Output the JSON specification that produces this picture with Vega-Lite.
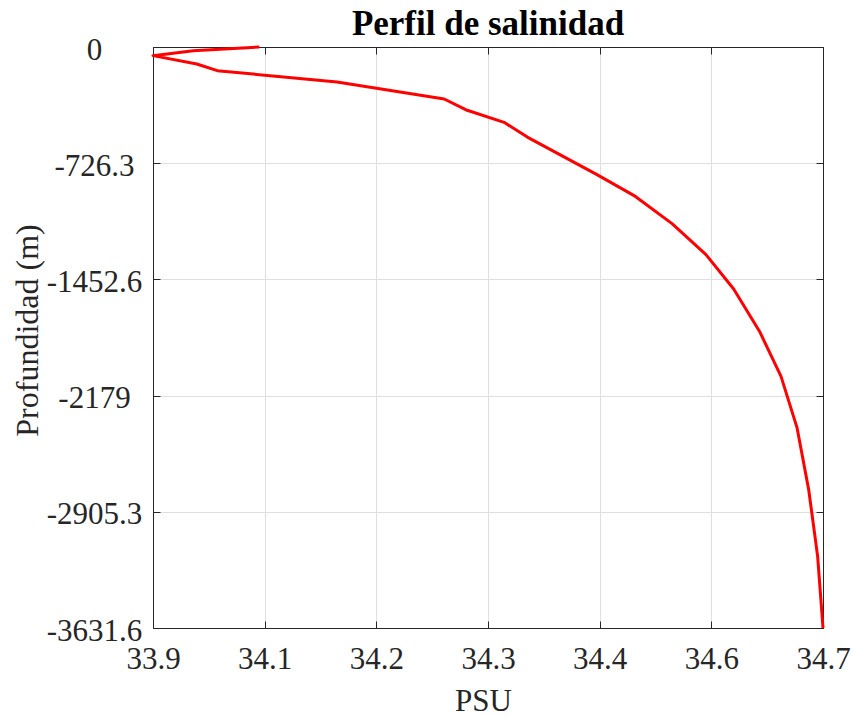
{
  "$schema": "https://vega.github.io/schema/vega-lite/v6.json",
  "width": 670,
  "height": 581,
  "autosize": {"type": "none"},
  "padding": {"left": 153, "top": 47, "right": 30, "bottom": 89},
  "background": "white",
  "config": {
    "view": {"stroke": "#262626", "strokeWidth": 1},
    "font": "Liberation Serif"
  },
  "title": {
    "text": "Perfil de salinidad",
    "font": "Liberation Serif",
    "fontSize": 35,
    "fontWeight": "bold",
    "color": "#000000",
    "anchor": "middle",
    "frame": "group",
    "baseline": "alphabetic",
    "offset": 10,
    "dy": 46
  },
  "data": {
    "values": [
      {"i": 0, "sal": 34.059, "depth": 0},
      {"i": 1, "sal": 33.985, "depth": -23},
      {"i": 2, "sal": 33.940, "depth": -54},
      {"i": 3, "sal": 33.989, "depth": -106},
      {"i": 4, "sal": 34.012, "depth": -148},
      {"i": 5, "sal": 34.146, "depth": -219},
      {"i": 6, "sal": 34.266, "depth": -325},
      {"i": 7, "sal": 34.290, "depth": -392},
      {"i": 8, "sal": 34.333, "depth": -471},
      {"i": 9, "sal": 34.359, "depth": -563},
      {"i": 10, "sal": 34.437, "depth": -798},
      {"i": 11, "sal": 34.480, "depth": -934},
      {"i": 12, "sal": 34.521, "depth": -1104},
      {"i": 13, "sal": 34.559, "depth": -1298},
      {"i": 14, "sal": 34.590, "depth": -1513},
      {"i": 15, "sal": 34.619, "depth": -1778},
      {"i": 16, "sal": 34.643, "depth": -2059},
      {"i": 17, "sal": 34.661, "depth": -2381},
      {"i": 18, "sal": 34.674, "depth": -2767},
      {"i": 19, "sal": 34.684, "depth": -3184},
      {"i": 20, "sal": 34.690, "depth": -3631.6}
    ]
  },
  "layer": [
    {
      "mark": {"type": "line", "color": "#ff0000", "strokeWidth": 3, "strokeJoin": "round", "clip": false},
      "encoding": {
        "x": {
          "field": "sal",
          "type": "quantitative",
          "scale": {"domain": [33.94, 34.69], "nice": false, "zero": false},
          "axis": {
            "orient": "bottom",
            "values": [33.94, 34.065, 34.19, 34.315, 34.44, 34.565, 34.69],
            "format": ".1f",
            "title": "PSU",
            "titleFont": "Liberation Serif",
            "titleFontSize": 31,
            "titleFontWeight": "normal",
            "titleColor": "#262626",
            "titleX": 330,
            "titleY": 82,
            "titleBaseline": "alphabetic",
            "labelFont": "Liberation Serif",
            "labelFontSize": 31,
            "labelColor": "#262626",
            "labelBaseline": "top",
            "labelPadding": 23,
            "labelFlush": false,
            "labelOverlap": false,
            "labelBound": false,
            "tickSize": -7,
            "tickColor": "#262626",
            "domainColor": "#262626",
            "grid": true,
            "gridColor": "#dfdfdf",
            "gridWidth": 1
          }
        },
        "y": {
          "field": "depth",
          "type": "quantitative",
          "scale": {"domain": [-3631.6, 0], "nice": false, "zero": false},
          "axis": {
            "orient": "left",
            "values": [0, -726.3, -1452.6, -2179, -2905.3, -3631.6],
            "labelExpr": "'' + datum.value",
            "title": "Profundidad (m)",
            "titleFont": "Liberation Serif",
            "titleFontSize": 32,
            "titleFontWeight": "normal",
            "titleColor": "#262626",
            "titleAngle": 270,
            "titleX": -116,
            "titleY": 283,
            "titleBaseline": "alphabetic",
            "titleAlign": "center",
            "labelFont": "Liberation Serif",
            "labelFontSize": 31,
            "labelColor": "#262626",
            "labelAlign": "center",
            "labelBaseline": "middle",
            "labelPadding": 66,
            "labelOffset": 3,
            "labelFlush": false,
            "labelOverlap": false,
            "labelBound": false,
            "tickSize": -7,
            "tickColor": "#262626",
            "domainColor": "#262626",
            "grid": true,
            "gridColor": "#dfdfdf",
            "gridWidth": 1
          }
        },
        "order": {"field": "i", "type": "quantitative"}
      }
    },
    {
      "mark": {"type": "line", "opacity": 0},
      "encoding": {
        "x": {
          "field": "sal",
          "type": "quantitative",
          "scale": {"domain": [33.94, 34.69], "nice": false, "zero": false},
          "axis": {
            "orient": "top",
            "values": [33.94, 34.065, 34.19, 34.315, 34.44, 34.565, 34.69],
            "labels": false,
            "title": null,
            "grid": false,
            "tickSize": -7,
            "tickColor": "#262626",
            "domainColor": "#262626"
          }
        },
        "y": {
          "field": "depth",
          "type": "quantitative",
          "scale": {"domain": [-3631.6, 0], "nice": false, "zero": false},
          "axis": {
            "orient": "right",
            "values": [0, -726.3, -1452.6, -2179, -2905.3, -3631.6],
            "labels": false,
            "title": null,
            "grid": false,
            "tickSize": -7,
            "tickColor": "#262626",
            "domainColor": "#262626"
          }
        },
        "order": {"field": "i", "type": "quantitative"}
      }
    }
  ],
  "resolve": {"axis": {"x": "independent", "y": "independent"}}
}
